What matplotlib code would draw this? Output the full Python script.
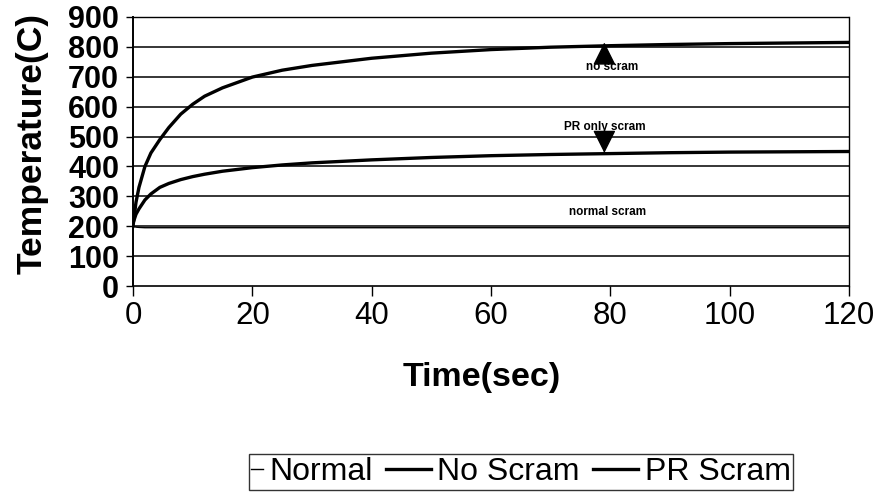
import matplotlib.pyplot as plt
from matplotlib.legend_handler import HandlerLine2D

plt.rcParams['font.family'] = ['Liberation Sans', 'DejaVu Sans']

# time (sec) and temperatures (C)
time = [0, 0.5, 1, 2, 3, 4.5, 6, 8, 10, 12, 15, 20, 25, 30, 40, 50, 60, 70, 80, 90, 100, 110, 120]
normal = [200, 197, 196, 195, 195, 195, 195, 195, 195, 195, 195, 195, 195, 195, 195, 195, 195, 195, 195, 195, 195, 195, 195]
no_scram = [200, 280, 330, 400, 445, 490, 530, 575, 608, 635, 663, 699, 722, 738, 762, 779, 791, 799, 804, 808, 811, 813, 815]
pr_scram = [210, 240, 258, 288, 308, 330, 343, 356, 366, 374, 384, 396, 405, 412, 422, 430, 436, 440, 443, 446, 448, 449, 450]

yticks = list(range(0, 1000, 100))
xticks = list(range(0, 140, 20))

fig = plt.figure(figsize=(8.78, 4.99), dpi=100)
ax = fig.add_axes([133 / 878, 1 - 286 / 499, 716 / 878, 269 / 499])

for y in yticks[1:]:
    ax.axhline(y, color='black', lw=1.1, zorder=1)

l1, = ax.plot(time, normal, color='black', lw=1.0, label='Normal', zorder=3)
l2, = ax.plot(time, no_scram, color='black', lw=2.4, label='No Scram', zorder=3)
l3, = ax.plot(time, pr_scram, color='black', lw=2.4, label='PR Scram', zorder=3)

# arrows + labels
head = dict(arrowstyle='-|>,head_length=0.4,head_width=0.2', color='black',
            lw=1, mutation_scale=36, shrinkA=0, shrinkB=0)
ax.annotate('', xy=(79, 815), xytext=(79, 750), arrowprops=head)
ax.text(80.3, 733, 'no scram', fontsize=8.5, fontweight='bold', ha='center', va='center')
ax.annotate('', xy=(79, 445), xytext=(79, 510), arrowprops=head)
ax.text(79.0, 532, 'PR only scram', fontsize=8.5, fontweight='bold', ha='center', va='center')
ax.text(79.6, 247, 'normal scram', fontsize=8.5, fontweight='bold', ha='center', va='center')

ax.set_xlim(0, 120)
ax.set_ylim(0, 900)
ax.set_xticks(xticks)
ax.set_yticks(yticks)
ax.tick_params(axis='y', labelsize=22, length=5, width=1, direction='out', pad=5)
ax.tick_params(axis='x', labelsize=22.5, length=7, width=1, direction='out', pad=4)
for lab in ax.get_yticklabels():
    lab.set_fontweight('bold')

for side in ['top', 'right']:
    ax.spines[side].set_linestyle((0, (2, 1)))
    ax.spines[side].set_linewidth(1.0)
ax.spines['left'].set_linewidth(1.4)
ax.spines['bottom'].set_linewidth(1.2)

ax.set_ylabel('Temperature(C)', fontsize=25.5, fontweight='bold', labelpad=14)
ax.yaxis.label.set_y(0.53)
ax.set_xlabel('Time(sec)', fontsize=24.5, fontweight='bold', labelpad=22)
ax.xaxis.label.set_x(0.487)

# short first legend line, longer ones for the two thick lines
long_line = HandlerLine2D(xpad=-1.06)
fig.legend(handles=[l1, l2, l3], loc='center', bbox_to_anchor=(521 / 878, 1 - 472 / 499),
           ncol=3, fontsize=23, frameon=True, fancybox=False, edgecolor='black',
           handlelength=0.35, handletextpad=0.2, columnspacing=1.48,
           borderpad=0.08, borderaxespad=0,
           handler_map={l2: long_line, l3: long_line})

fig.savefig('out.png', dpi=100)
